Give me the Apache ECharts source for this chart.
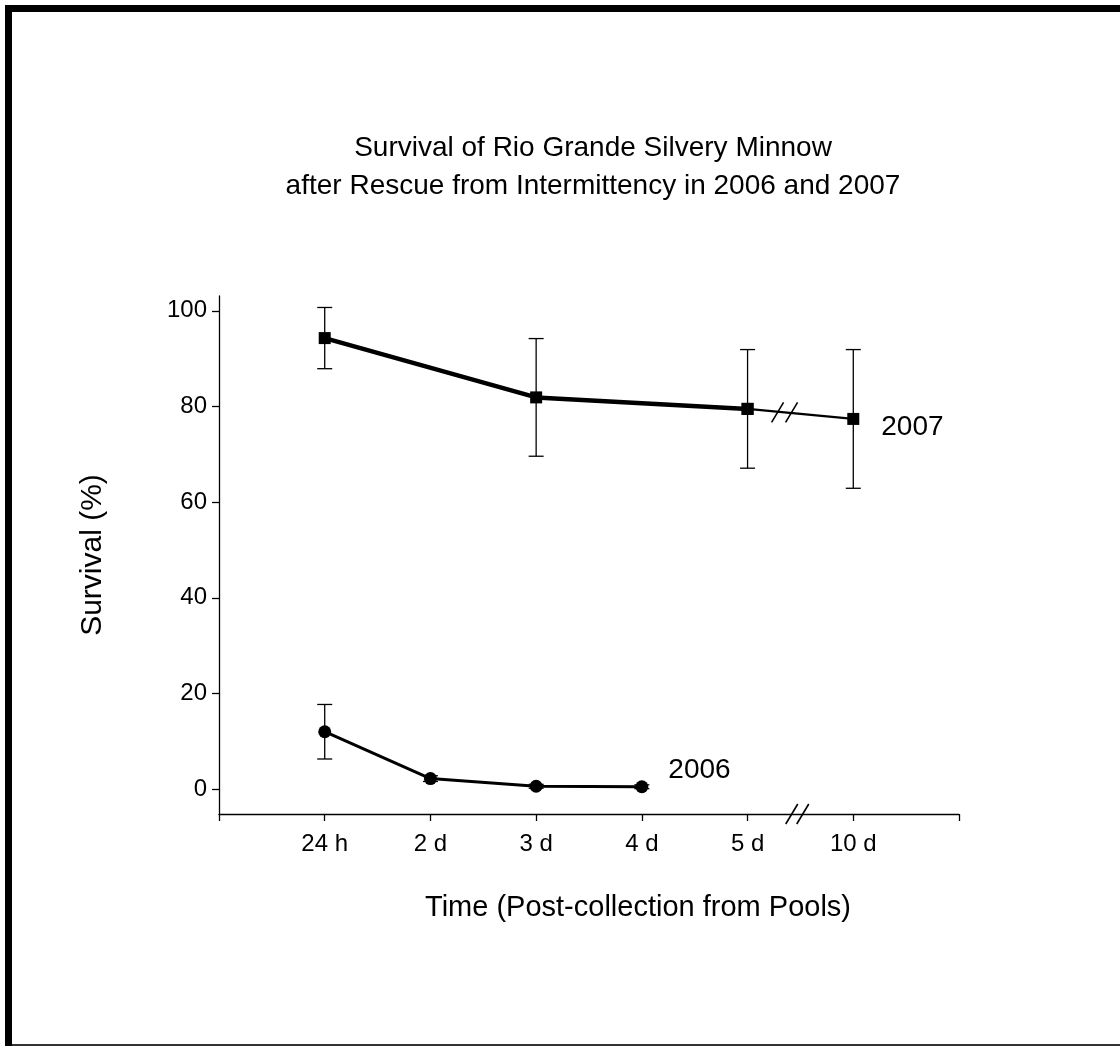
<!DOCTYPE html>
<html>
<head>
<meta charset="utf-8">
<script src="https://cdn.jsdelivr.net/npm/echarts@6/dist/echarts.min.js"></script>
<style>
html,body{margin:0;padding:0;background:#fff;}
#chart{width:1120px;height:1046px;}
</style>
</head>
<body>
<div id="chart"></div>
<script>
// ---- data ----
var categories = ['24 h', '2 d', '3 d', '4 d', '5 d', '10 d'];
var yTicks = [0, 20, 40, 60, 80, 100];
var mean2007 = [94.3, null, 81.9, null, 79.5, 77.4];
var err2007  = [6.4, null, 12.3, null, 12.4, 14.5];
var mean2006 = [12.0, 2.2, 0.6, 0.5, null, null];
var err2006  = [5.7, 0.6, 0.4, 0.4, null, null];
var titleLines = ['Survival of Rio Grande Silvery Minnow', 'after Rescue from Intermittency in 2006 and 2007'];
var yName = 'Survival (%)';
var xName = 'Time (Post-collection from Pools)';
var breakAt = 5.47; // axis break position between '5 d' and '10 d'

// ---- helpers ----
function pts(arr, from, to) {
  var out = [];
  for (var i = from; i <= to; i++) {
    if (arr[i] != null) out.push([i + 1, arr[i]]);
  }
  return out;
}
function errData(means, errs) {
  var out = [];
  for (var i = 0; i < means.length; i++) {
    if (means[i] != null) out.push([i + 1, means[i] - errs[i], means[i] + errs[i]]);
  }
  return out;
}
function errRender(params, api) {
  var x = api.value(0);
  var lo = api.coord([x, api.value(1)]);
  var hi = api.coord([x, api.value(2)]);
  var w = 7.5;
  var st = { stroke: '#000', lineWidth: 1.3 };
  return {
    type: 'group',
    children: [
      { type: 'line', shape: { x1: lo[0], y1: lo[1], x2: hi[0], y2: hi[1] }, style: st },
      { type: 'line', shape: { x1: lo[0] - w, y1: lo[1], x2: lo[0] + w, y2: lo[1] }, style: st },
      { type: 'line', shape: { x1: hi[0] - w, y1: hi[1], x2: hi[0] + w, y2: hi[1] }, style: st }
    ]
  };
}
function slashPair(cx, cy, gap, dx, dy) {
  var st = { stroke: '#000', lineWidth: 1.6 };
  return [
    { type: 'line', shape: { x1: cx - gap - dx, y1: cy + dy, x2: cx - gap + dx, y2: cy - dy }, style: st },
    { type: 'line', shape: { x1: cx + gap - dx, y1: cy + dy, x2: cx + gap + dx, y2: cy - dy }, style: st }
  ];
}

var FONT = 'Liberation Sans, Arial, sans-serif';
var chart = echarts.init(document.getElementById('chart'));

// line-break position on the 2007 segment (between 5 d and 10 d)
var i5 = 4, i10 = 5;
var lineBreakX = 5.35;
var lineBreakY = mean2007[i5] + (mean2007[i10] - mean2007[i5]) * (lineBreakX - (i5 + 1));

chart.setOption({
  animation: false,
  backgroundColor: '#fff',
  title: {
    text: titleLines.join('\n'),
    left: 588, top: 124,
    textAlign: 'center',
    textStyle: { fontFamily: FONT, fontSize: 28, fontWeight: 'normal', color: '#000', lineHeight: 38 }
  },
  grid: { left: 219, right: 161, top: 296, bottom: 232, containLabel: false },
  xAxis: {
    type: 'value', min: 0, max: 7, interval: 1,
    name: xName, nameLocation: 'middle', nameGap: 79,
    nameTextStyle: { fontFamily: FONT, fontSize: 29, color: '#000', padding: [0, 0, 0, 98] },
    axisLine: { show: true, onZero: false, lineStyle: { color: '#000', width: 1.3 } },
    axisTick: { show: true, inside: false, length: 7, lineStyle: { color: '#000', width: 1.3 } },
    axisLabel: {
      fontFamily: FONT, fontSize: 24, color: '#000', margin: 18,
      formatter: function (v) { return categories[v - 1] || ''; }
    },
    splitLine: { show: false }
  },
  yAxis: {
    type: 'value', min: -5.2, max: 103.1,
    name: yName, nameLocation: 'middle', nameGap: 111, nameRotate: 90,
    nameTextStyle: { fontFamily: FONT, fontSize: 30, color: '#000' },
    axisLine: { show: true, onZero: false, lineStyle: { color: '#000', width: 1.3 } },
    axisTick: { show: true, inside: false, length: 7, customValues: yTicks, lineStyle: { color: '#000', width: 1.3 } },
    axisLabel: { fontFamily: FONT, fontSize: 24, color: '#000', margin: 12, customValues: yTicks },
    splitLine: { show: false }
  },
  series: [
    {
      name: '2007 err', type: 'custom', renderItem: errRender,
      data: errData(mean2007, err2007), encode: { x: 0, y: [1, 2] }, z: 2
    },
    {
      name: '2006 err', type: 'custom', renderItem: errRender,
      data: errData(mean2006, err2006), encode: { x: 0, y: [1, 2] }, z: 2
    },
    {
      name: '2007', type: 'line', data: pts(mean2007, 0, 4),
      lineStyle: { color: '#000', width: 4.5 }, symbol: 'rect', symbolSize: 12,
      itemStyle: { color: '#000' }, z: 3
    },
    {
      name: '2007b', type: 'line', data: pts(mean2007, 4, 5),
      lineStyle: { color: '#000', width: 2.2 }, symbol: 'rect', symbolSize: 12,
      itemStyle: { color: '#000' }, z: 3,
      label: {
        show: true, position: 'right', distance: 22, fontFamily: FONT, fontSize: 28, color: '#000',
        offset: [0, 8],
        formatter: function (p) { return p.dataIndex === 1 ? '2007' : ''; }
      }
    },
    {
      name: '2006', type: 'line', data: pts(mean2006, 0, 3),
      lineStyle: { color: '#000', width: 3 }, symbol: 'circle', symbolSize: 13,
      itemStyle: { color: '#000' }, z: 3,
      label: {
        show: true, position: 'right', distance: 20, fontFamily: FONT, fontSize: 28, color: '#000',
        offset: [0, -16],
        formatter: function (p) { return p.dataIndex === 3 ? '2006' : ''; }
      }
    },
    {
      name: 'breaks', type: 'custom',
      data: [[breakAt, -5.2, 0], [lineBreakX, lineBreakY, 1]],
      encode: { x: 0, y: 1 }, z: 5,
      renderItem: function (params, api) {
        var c = api.coord([api.value(0), api.value(1)]);
        var kind = api.value(2);
        var ch = kind === 0 ? slashPair(c[0], c[1], 5.5, 6, 10) : slashPair(c[0], c[1], 7, 6, 10);
        return { type: 'group', children: ch };
      }
    }
  ],
  graphic: [
    { type: 'rect', left: 5, top: 5, shape: { width: 1115, height: 7 }, style: { fill: '#000' } },
    { type: 'rect', left: 5, top: 5, shape: { width: 7, height: 1041 }, style: { fill: '#000' } },
    { type: 'rect', left: 12, top: 1044, shape: { width: 1108, height: 2 }, style: { fill: '#333' } }
  ]
});
</script>
</body>
</html>
